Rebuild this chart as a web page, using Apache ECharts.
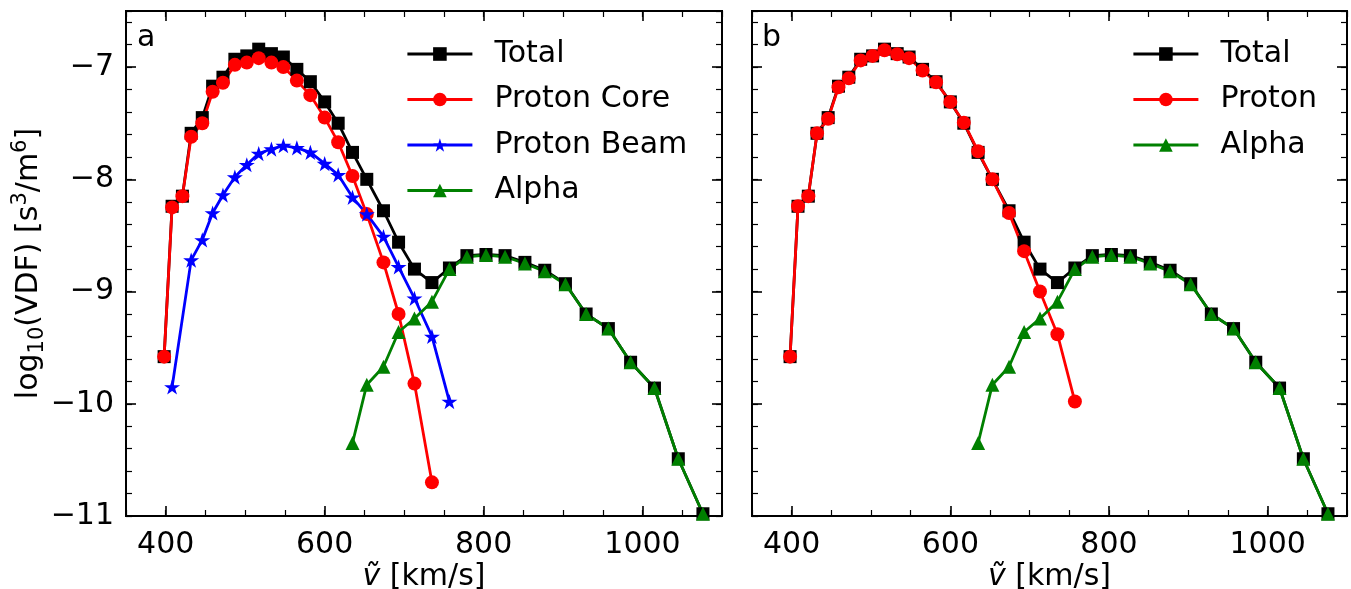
<html>
<head>
<meta charset="utf-8">
<title>VDF</title>
<script src="https://cdn.jsdelivr.net/npm/echarts@6/dist/echarts.min.js"></script>
<style>
  html,body{margin:0;padding:0;background:#fff;}
  #main{width:1351px;height:589px;}
</style>
</head>
<body>
<div id="main"></div>
<script>
// speed grid [km/s]
var v = [398, 408, 421, 432, 446, 459, 472, 487, 502, 517, 533, 548, 565, 582, 600, 617, 635, 653,
         674, 693, 713, 735, 757, 779, 803, 827, 852, 877, 903, 929, 957, 985, 1015, 1045, 1076];

// log10(VDF), panel a
var total = [-9.58, -8.24, -8.15, -7.59, -7.45, -7.17, -7.09, -6.93, -6.90, -6.84, -6.88, -6.91, -7.02, -7.13, -7.31, -7.50, -7.76, -8.00,
             -8.28, -8.56, -8.80, -8.92, -8.79, -8.68, -8.67, -8.68, -8.74, -8.81, -8.93, -9.20, -9.33, -9.63, -9.86, -10.49, -10.98];
var core = [-9.58, -8.25, -8.15, -7.62, -7.50, -7.22, -7.14, -6.98, -6.96, -6.92, -6.96, -7.00, -7.12, -7.25, -7.45, -7.67, -7.97, -8.31,
            -8.74, -9.20, -9.82, -10.70];
var beam = [null, -9.85, null, -8.72, -8.54, -8.30, -8.14, -7.98, -7.87, -7.77, -7.73, -7.70, -7.72, -7.76, -7.86, -7.96, -8.16, -8.31,
            -8.51, -8.78, -9.06, -9.40, -9.98];
var alpha = [null, null, null, null, null, null, null, null, null, null, null, null, null, null, null, null, -10.35, -9.83,
             -9.67, -9.36, -9.24, -9.09, -8.80, -8.69, -8.675, -8.69, -8.75, -8.82, -8.935, -9.20, -9.33, -9.63, -9.86, -10.49, -10.98];
// panel b: proton = core + beam
var proton = [-9.58, -8.24, -8.15, -7.59, -7.46, -7.18, -7.10, -6.94, -6.90, -6.85, -6.885, -6.92, -7.03, -7.135, -7.31, -7.495, -7.75, -8.00,
              -8.30, -8.64, -9.00, -9.38, -9.98];

var xMajor = [400, 600, 800, 1000];

var FONT = 'DejaVu Sans';
var STAR = 'path://M100 0 L122.45 69.1 L195.11 69.1 L136.33 111.8 L158.78 180.9 L100 138.2 L41.22 180.9 L63.67 111.8 L4.89 69.1 L77.55 69.1 Z';

function pairs(vals){
  var out = [];
  for (var i = 0; i < vals.length; i++) {
    if (vals[i] !== null) out.push([v[i], vals[i]]);
  }
  return out;
}

function minus(val){
  return String(val).replace('-', '\u2212');
}

var tickMaj = {inside: true, length: 10, lineStyle: {color: '#000', width: 1.6}};
var tickMin = {inside: true, length: 6, lineStyle: {color: '#000', width: 1.2}};

// four x axes per grid: bottom major/minor, top major/minor
function xAxes(g){
  var base = {type: 'value', gridIndex: g, min: 350, max: 1100, splitLine: {show: false}, axisLine: {show: false}};
  return [
    Object.assign({}, base, {
      position: 'bottom',
      axisTick: Object.assign({customValues: xMajor}, tickMaj),
      axisLabel: {customValues: xMajor, fontSize: 30, color: '#000', fontFamily: FONT, margin: 14,
        formatter: function(val){ return String(val); }},
      name: '{i|\u1E7D} [km/s]', nameLocation: 'middle', nameGap: 46, nameMoveOverlap: false,
      nameTextStyle: {fontSize: 30, color: '#000', fontFamily: FONT,
        rich: {i: {fontSize: 30, fontStyle: 'italic', color: '#000', fontFamily: FONT}}}
    }),
    Object.assign({}, base, {position: 'bottom', interval: 50, axisTick: tickMin, axisLabel: {show: false}}),
    Object.assign({}, base, {position: 'top', axisTick: Object.assign({customValues: xMajor}, tickMaj), axisLabel: {show: false}}),
    Object.assign({}, base, {position: 'top', interval: 50, axisTick: tickMin, axisLabel: {show: false}})
  ];
}

function yAxes(g, labels){
  var base = {type: 'value', gridIndex: g, min: -11, max: -6.5, splitLine: {show: false}, axisLine: {show: false}};
  var main = Object.assign({}, base, {
    position: 'left', interval: 1, axisTick: tickMaj,
    axisLabel: {show: labels, showMaxLabel: false, fontSize: 30, color: '#000', fontFamily: FONT, margin: 12, formatter: minus}
  });
  if (labels) {
    main.name = '{a|log}{s|10}{a|(VDF) [s}{p|3}{a|/m}{p|6}{a|]}';
    main.nameLocation = 'middle';
    main.nameGap = 78;
    main.nameMoveOverlap = false;
    main.nameTextStyle = {color: '#000', fontFamily: FONT, rich: {
      a: {fontSize: 30, lineHeight: 38, color: '#000', fontFamily: FONT},
      s: {fontSize: 21, lineHeight: 21, verticalAlign: 'bottom', color: '#000', fontFamily: FONT},
      p: {fontSize: 21, lineHeight: 21, verticalAlign: 'top', color: '#000', fontFamily: FONT}
    }};
  }
  return [
    main,
    Object.assign({}, base, {position: 'left', interval: 0.2, axisTick: tickMin, axisLabel: {show: false}}),
    Object.assign({}, base, {position: 'right', interval: 1, axisTick: tickMaj, axisLabel: {show: false}}),
    Object.assign({}, base, {position: 'right', interval: 0.2, axisTick: tickMin, axisLabel: {show: false}})
  ];
}

function line(name, vals, color, symbol, size, axis){
  return {
    name: name, type: 'line', xAxisIndex: axis, yAxisIndex: axis,
    data: pairs(vals), symbol: symbol, symbolSize: size, symbolKeepAspect: true,
    itemStyle: {color: color}, lineStyle: {color: color, width: 2.8},
    showAllSymbol: true, z: 2
  };
}

var legendBase = {
  orient: 'vertical', itemWidth: 65, itemHeight: 17, itemGap: 15.5, padding: 0,
  lineStyle: {width: 2.8},
  textStyle: {fontSize: 30, color: '#000', fontFamily: FONT, padding: [0, 0, 0, 17]},
  selectedMode: false
};

var chart = echarts.init(document.getElementById('main'));
var option = {
  animation: false,
  backgroundColor: '#fff',
  grid: [
    {left: 126, top: 11, width: 596, height: 505, outerBoundsMode: 'none', show: true, borderColor: '#000', borderWidth: 2, backgroundColor: 'transparent'},
    {left: 752, top: 11, width: 595, height: 505, outerBoundsMode: 'none', show: true, borderColor: '#000', borderWidth: 2, backgroundColor: 'transparent'}
  ],
  xAxis: xAxes(0).concat(xAxes(1)),
  yAxis: yAxes(0, true).concat(yAxes(1, false)),
  legend: [
    Object.assign({}, legendBase, {left: 406, top: 39, data: ['Total', 'Proton Core', 'Proton Beam', 'Alpha']}),
    Object.assign({}, legendBase, {left: 1132, top: 39, data: ['Total', 'Proton', 'Alpha']})
  ],
  graphic: [
    {type: 'text', left: 137, top: 23, style: {text: 'a', fontSize: 30, fontFamily: FONT, fill: '#000'}},
    {type: 'text', left: 762, top: 23, style: {text: 'b', fontSize: 30, fontFamily: FONT, fill: '#000'}}
  ],
  series: [
    line('Total', total, '#000000', 'rect', 13, 0),
    line('Proton Core', core, '#ff0000', 'circle', 14, 0),
    line('Proton Beam', beam, '#0000ff', STAR, 16, 0),
    line('Alpha', alpha, '#008000', 'triangle', 14, 0),
    line('Total', total, '#000000', 'rect', 13, 4),
    line('Proton', proton, '#ff0000', 'circle', 14, 4),
    line('Alpha', alpha, '#008000', 'triangle', 14, 4)
  ]
};
chart.setOption(option);
</script>
</body>
</html>
